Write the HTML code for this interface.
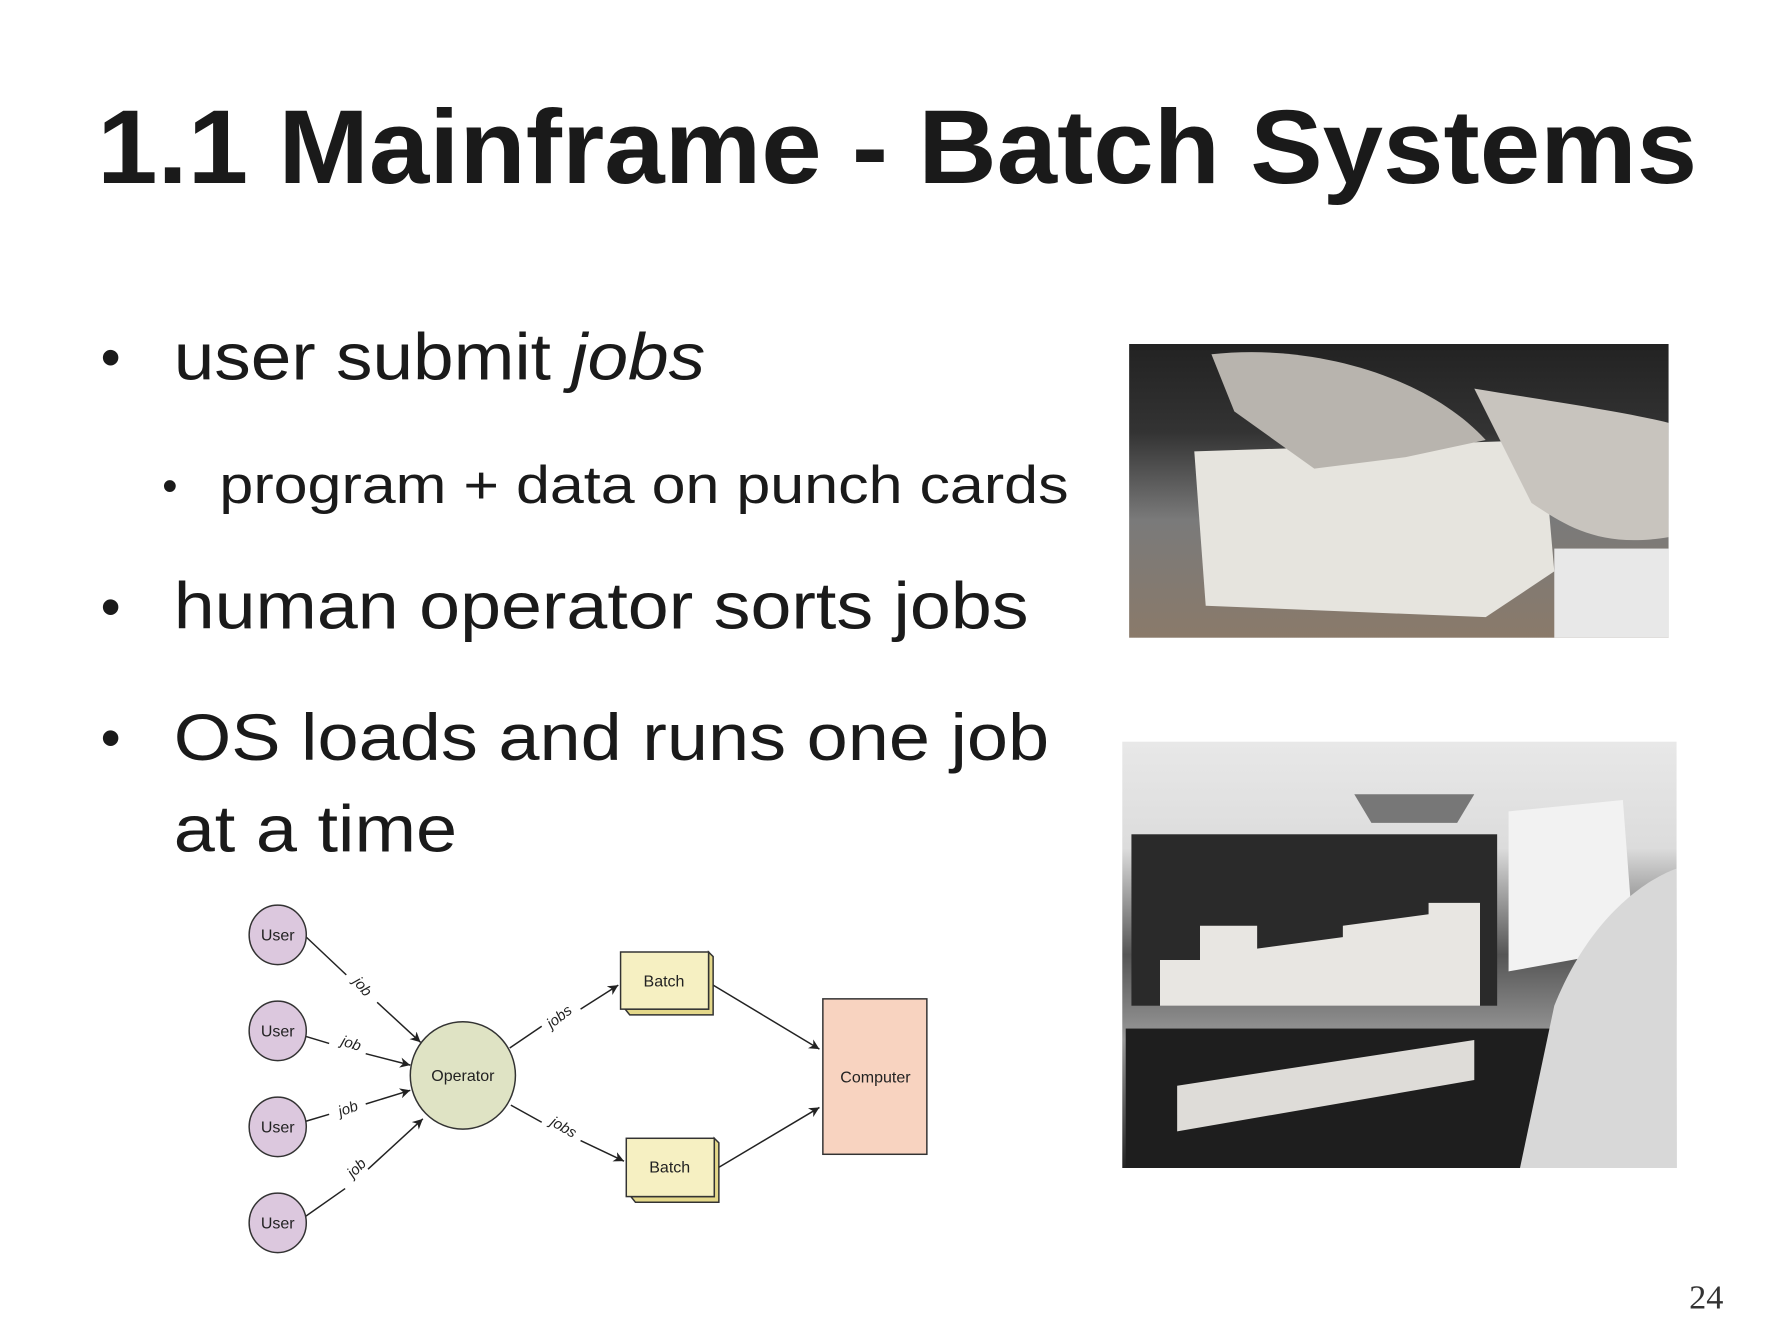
<!DOCTYPE html>
<html><head><style>html,body{margin:0;padding:0;background:#fff}svg{display:block}</style></head>
<body>
<svg width="1792" height="1344" viewBox="0 0 1568 1176" xmlns="http://www.w3.org/2000/svg" font-family="Liberation Sans, sans-serif">
<defs>
<marker id="a" viewBox="0 0 10 10" refX="10" refY="5" markerWidth="9" markerHeight="9" orient="auto" markerUnits="userSpaceOnUse"><path d="M0,0 L10,5 L0,10 L3,5 z" fill="#222"/></marker>
<linearGradient id="g1" x1="0" y1="0" x2="0" y2="1"><stop offset="0" stop-color="#222"/><stop offset="0.3" stop-color="#333"/><stop offset="0.6" stop-color="#7a7a7a"/><stop offset="1" stop-color="#8a7a6a"/></linearGradient>
<linearGradient id="g2" x1="0" y1="0" x2="0" y2="1"><stop offset="0" stop-color="#e8e8e8"/><stop offset="0.25" stop-color="#dcdcdc"/><stop offset="0.5" stop-color="#555"/><stop offset="0.7" stop-color="#999"/><stop offset="1" stop-color="#222"/></linearGradient>
</defs>
<text x="85" y="160" font-size="92" font-weight="bold" fill="#1a1a1a" textLength="1400" lengthAdjust="spacingAndGlyphs">1.1 Mainframe - Batch Systems</text>
<g fill="#1a1a1a" font-family="Liberation Sans, sans-serif">
<text x="88" y="330" font-size="50">•</text>
<text x="152" y="332" font-size="58" textLength="465" lengthAdjust="spacingAndGlyphs">user submit <tspan font-style="italic">jobs</tspan></text>
<text x="142" y="438" font-size="38">•</text>
<text x="192" y="440" font-size="46" textLength="743" lengthAdjust="spacingAndGlyphs">program + data on punch cards</text>
<text x="88" y="548" font-size="50">•</text>
<text x="152" y="550" font-size="58" textLength="748" lengthAdjust="spacingAndGlyphs">human operator sorts jobs</text>
<text x="88" y="663" font-size="50">•</text>
<text x="152" y="665" font-size="58" textLength="766" lengthAdjust="spacingAndGlyphs">OS loads and runs one job</text>
<text x="152" y="745" font-size="58" textLength="248" lengthAdjust="spacingAndGlyphs">at a time</text>
<text x="1478" y="1145" font-size="30" font-family="Liberation Serif, serif" fill="#333">24</text>
</g>
<!-- photo 1 -->
<rect x="988" y="301" width="472" height="257" fill="url(#g1)"/>
<path d="M1045,395 L1350,385 L1360,500 L1300,540 L1055,530 z" fill="#e6e4de"/>
<path d="M1060,310 C1150,300 1250,330 1300,385 L1230,400 L1150,410 L1080,360 z" fill="#b8b4ae"/>
<path d="M1290,340 C1350,350 1420,360 1460,370 L1460,470 C1400,480 1370,460 1340,440 z" fill="#c8c4be"/>
<rect x="1360" y="480" width="100" height="78" fill="#e8e8e8"/>
<!-- photo 2 -->
<rect x="982" y="649" width="485" height="373" fill="url(#g2)"/>
<rect x="990" y="730" width="320" height="150" fill="#2a2a2a"/>
<path d="M1015,880 L1015,840 L1050,840 L1050,810 L1100,810 L1100,830 L1175,820 L1175,810 L1250,800 L1250,790 L1295,790 L1295,880 z" fill="#e8e6e2"/>
<rect x="985" y="900" width="400" height="122" fill="#1e1e1e"/>
<path d="M1030,950 L1290,910 L1290,945 L1030,990 z" fill="#dedcd8"/>
<path d="M1320,710 L1420,700 L1430,830 L1320,850 z" fill="#f2f2f2"/>
<path d="M1360,880 C1400,780 1467,760 1467,760 L1467,1022 L1330,1022 z" fill="#d8d8d8"/>
<path d="M1200,720 L1275,720 L1290,695 L1185,695 z" fill="#777"/>
<!-- diagram -->
<g stroke="#222" stroke-width="1.3" fill="none">
<line x1="268" y1="820" x2="303" y2="853"/><line x1="330" y1="877" x2="368" y2="912" marker-end="url(#a)"/>
<line x1="268" y1="907" x2="288" y2="913"/><line x1="320" y1="922" x2="359" y2="932" marker-end="url(#a)"/>
<line x1="268" y1="981" x2="288" y2="975"/><line x1="320" y1="966" x2="359" y2="954" marker-end="url(#a)"/>
<line x1="265" y1="1066" x2="302" y2="1040"/><line x1="322" y1="1023" x2="370" y2="979" marker-end="url(#a)"/>
<line x1="446" y1="917" x2="474" y2="898"/><line x1="508" y1="883" x2="541" y2="862" marker-end="url(#a)"/>
<line x1="447" y1="967" x2="474" y2="982"/><line x1="508" y1="998" x2="546" y2="1016" marker-end="url(#a)"/>
<line x1="624" y1="862" x2="717" y2="918" marker-end="url(#a)"/>
<line x1="628" y1="1022" x2="717" y2="969" marker-end="url(#a)"/>
</g>
<g stroke="#333" stroke-width="1.3">
<ellipse cx="243" cy="818" rx="25" ry="26" fill="#dcc8de"/>
<ellipse cx="243" cy="902" rx="25" ry="26" fill="#dcc8de"/>
<ellipse cx="243" cy="986" rx="25" ry="26" fill="#dcc8de"/>
<ellipse cx="243" cy="1070" rx="25" ry="26" fill="#dcc8de"/>
<ellipse cx="405" cy="941" rx="46" ry="47" fill="#dfe3c4"/>
<path d="M547,883 L551,888 L624,888 L624,837 L620,833 L620,883 z" fill="#e4d88a"/>
<rect x="543" y="833" width="77" height="50" fill="#f6f0c2"/>
<path d="M552,1047 L556,1052 L629,1052 L629,1000 L625,996 L625,1047 z" fill="#e4d88a"/>
<rect x="548" y="996" width="77" height="51" fill="#f6f0c2"/>
<rect x="720" y="874" width="91" height="136" fill="#f8d3c0"/>
</g>
<g font-size="14" fill="#222" text-anchor="middle">
<text x="243" y="823">User</text><text x="243" y="907">User</text><text x="243" y="991">User</text><text x="243" y="1075">User</text>
<text x="405" y="946">Operator</text>
<text x="581" y="863">Batch</text><text x="586" y="1026">Batch</text>
<text x="766" y="947">Computer</text>
<g font-size="13" font-style="italic">
<text transform="translate(314,866) rotate(50)">job</text>
<text transform="translate(306,917) rotate(18)">job</text>
<text transform="translate(306,974) rotate(-20)">job</text>
<text transform="translate(315,1025) rotate(-45)">job</text>
<text transform="translate(492,893) rotate(-38)">jobs</text>
<text transform="translate(491,990) rotate(30)">jobs</text>
</g>
</g>
</svg>
</body></html>
